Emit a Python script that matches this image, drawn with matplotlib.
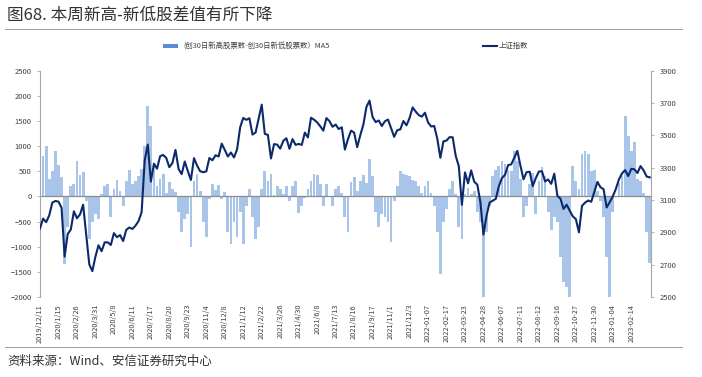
import numpy as np
import matplotlib.pyplot as plt
from matplotlib.lines import Line2D
from matplotlib.patches import Rectangle

plt.rcParams['font.family'] = ['Noto Sans CJK SC', 'DejaVu Sans']

# one sample every 4 trading days, a date label every 6 samples
tick_labels = ['2019/12/11', '2020/1/15', '2020/2/26', '2020/3/31', '2020/5/8',
               '2020/6/11', '2020/7/17', '2020/8/20', '2020/9/23', '2020/11/4',
               '2020/12/8', '2021/1/12', '2021/2/22', '2021/3/26', '2021/4/30',
               '2021/6/8', '2021/7/13', '2021/8/16', '2021/9/17', '2021/11/1',
               '2021/12/3', '2022-01-07', '2022-02-17', '2022-03-23', '2022-04-28',
               '2022-06-07', '2022-07-11', '2022-08-12', '2022-09-16', '2022-10-27',
               '2022-11-30', '2023-01-04', '2023-02-14']
tick_step = 6

# (创30日新高股票数-创30日新低股票数) MA5
spread_ma5 = [
    400, 800, 1000, 350, 500, 900, 620, 380, -1350, -600,
    200, 250, 700, 420, 480, -100, -850, -500, -350, -450,
    50, 200, 240, -400, 150, 320, 100, -200, 300, 520,
    250, 300, 400, 550, 1000, 1800, 1400, 600, 200, 350,
    450, 60, 290, 150, 80, -300, -700, -450, -350, -1000,
    300, 450, 100, -500, -800, -50, 250, 120, 230, -50,
    80, -700, -950, -500, -800, -300, -950, -200, 150, -400,
    -850, -600, 150, 500, 300, 450, 30, 200, 150, 50,
    200, -100, 200, 300, -330, -200, -30, 150, 300, 450,
    420, 250, -200, 250, 0, -200, 150, 200, 60, -400,
    -700, 280, 380, 100, 300, 420, 260, 740, 400, -300,
    -600, -350, -400, -500, -900, -100, 200, 500, 450, 420,
    400, 320, 300, 200, 60, 200, 310, 60, -200, -700,
    -1550, -500, -250, 150, 300, 50, -600, -850, 50, 160,
    50, 100, -300, -500, -2000, -700, -200, 400, 520, 600,
    700, 650, 520, 500, 900, 700, 350, -400, -200, 250,
    460, -340, 300, 590, 400, -300, -670, -400, -500, -1200,
    -1700, -1800, -2000, 600, 300, 150, 850, 900, 850, 500,
    520, 100, -100, -400, -1200, -2000, -300, 0, 260, 400,
    1600, 1200, 900, 1090, 350, 300, 60, -700, -1330,
]

# 上证指数
sse_index = [
    2924, 2985, 2963, 3005, 3084, 3094, 3090, 3052, 2750, 2890,
    2917, 3030, 2987, 3011, 3071, 2887, 2702, 2660, 2750, 2820,
    2783, 2838, 2838, 2822, 2895, 2870, 2883, 2846, 2915, 2930,
    2921, 2941, 2970, 3025, 3345, 3443, 3214, 3325, 3294, 3371,
    3379, 3360, 3303, 3329, 3410, 3292, 3260, 3338, 3279, 3224,
    3359, 3313, 3278, 3272, 3277, 3360, 3346, 3377, 3369, 3449,
    3410, 3369, 3394, 3363, 3414, 3550, 3608, 3596, 3606, 3505,
    3517, 3603, 3690, 3509, 3503, 3357, 3446, 3443, 3418, 3466,
    3482, 3417, 3477, 3441, 3447, 3441, 3517, 3487, 3609, 3597,
    3580, 3556, 3529, 3607, 3588, 3553, 3567, 3539, 3550, 3412,
    3477, 3529, 3517, 3427, 3501, 3567, 3676, 3715, 3613, 3582,
    3592, 3558, 3587, 3598, 3545, 3491, 3532, 3537, 3589, 3562,
    3607, 3673, 3647, 3625, 3616, 3640, 3580, 3555, 3558, 3480,
    3361, 3463, 3468, 3489, 3488, 3372, 3309, 3070, 3271, 3203,
    3283, 3213, 3195, 3087, 2886, 3004, 3084, 3096, 3107, 3186,
    3236, 3256, 3316, 3320, 3361, 3404, 3313, 3228, 3272, 3275,
    3186, 3236, 3276, 3278, 3215, 3227, 3200, 3263, 3126, 3108,
    3045, 3071, 3035, 2999, 2982, 2900, 3064, 3084, 3097, 3089,
    3151, 3212, 3179, 3167, 3054, 3087, 3123, 3169, 3228, 3265,
    3285, 3248, 3293, 3290, 3267, 3310, 3283, 3245, 3240,
]

bar_color = '#a8c4e8'
line_color = '#0c2a6b'
text_color = '#404040'
axis_color = '#a6a6a6'

x = np.arange(len(sse_index))

fig = plt.figure(figsize=(7.02, 3.77), dpi=100)
W, H = 702, 377
ax = fig.add_axes([40 / W, 1 - 297 / H, (651 - 40) / W, (297 - 70.7) / H])

ax.bar(x, spread_ma5, width=0.9, color=bar_color, linewidth=0)
ax.axhline(0, color='#8c8c8c', lw=0.9, zorder=1)
ax.set_ylim(-2000, 2500)
ax.set_yticks(range(-2000, 2501, 500))
ax.set_xlim(0, 198.4)
ax.set_xticks(np.arange(len(tick_labels)) * tick_step)
ax.set_xticklabels(tick_labels, rotation=90, fontsize=5.3, color=text_color)
ax.tick_params(axis='x', length=0, pad=5)
ax.tick_params(axis='y', labelsize=5.5, labelcolor=text_color, length=2.5,
               color=axis_color, width=0.6)
for side in ['top', 'bottom', 'right']:
    ax.spines[side].set_visible(False)
ax.spines['left'].set_color(axis_color)
ax.spines['left'].set_linewidth(0.8)

ax2 = ax.twinx()
ax2.plot(x, sse_index, color=line_color, lw=1.5)
ax2.set_ylim(2500, 3900)
ax2.set_yticks(range(2500, 3901, 200))
ax2.tick_params(axis='y', labelsize=5.5, labelcolor=text_color, length=2.5,
                color=axis_color, width=0.6)
for side in ['top', 'bottom', 'left']:
    ax2.spines[side].set_visible(False)
ax2.spines['right'].set_color(axis_color)
ax2.spines['right'].set_linewidth(0.8)

# legend drawn by hand above the plot
fig.add_artist(Rectangle((163 / W, 1 - 47.5 / H), 15 / W, 3.6 / H,
                         transform=fig.transFigure, color='#5b8bd0', lw=0))
fig.text(183 / W, 1 - 45.7 / H, '(创30日新高股票数-创30日新低股票数）MA5',
         fontsize=5.3, va='center', color=text_color)
fig.add_artist(Line2D([483 / W, 497 / W], [1 - 45.7 / H] * 2,
                      transform=fig.transFigure, color=line_color, lw=1.5))
fig.text(499 / W, 1 - 45.7 / H, '上证指数', fontsize=5.3, va='center', color=text_color)

# title, rules, source
fig.text(7 / W, 1 - 15 / H, '图68. 本周新高-新低股差值有所下降',
         fontsize=12, va='center', color='#333333')
fig.add_artist(Line2D([5 / W, 682 / W], [1 - 29.3 / H] * 2,
                      transform=fig.transFigure, color='#8c8c8c', lw=0.6))
fig.add_artist(Line2D([5 / W, 682 / W], [1 - 347.3 / H] * 2,
                      transform=fig.transFigure, color='#8c8c8c', lw=0.6))
fig.text(7 / W, 1 - 361 / H, '资料来源：Wind、安信证券研究中心',
         fontsize=9, va='center', color='#333333', style='italic')

fig.savefig('out.png', dpi=100)
